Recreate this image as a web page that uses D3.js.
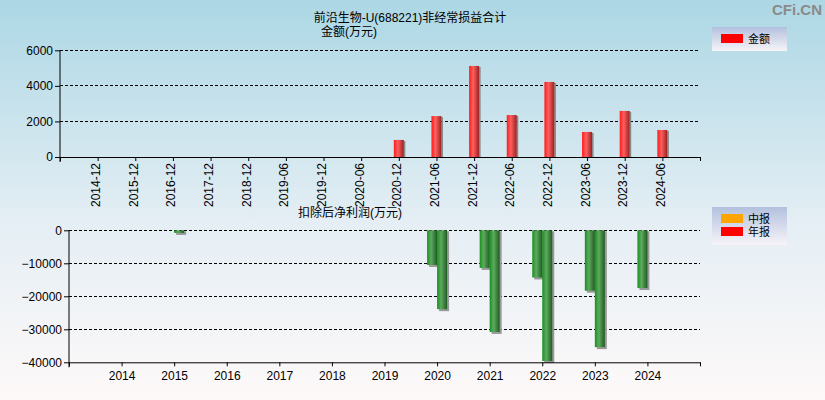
<!DOCTYPE html>
<html><head><meta charset="utf-8">
<script src="https://cdn.jsdelivr.net/npm/d3@7"></script>
<style>
body{margin:0;padding:0;}
svg{display:block;font-family:"Liberation Sans",Arial,"Noto Sans CJK SC",sans-serif;}
</style></head>
<body>
<svg id="c" width="825" height="400"></svg>
<script>
// ---- data ----
const topCategories = ["2014-12","2015-12","2016-12","2017-12","2018-12","2019-06","2019-12","2020-06","2020-12","2021-06","2021-12","2022-06","2022-12","2023-06","2023-12","2024-06"];
const topValues = [null,null,null,null,null,null,null,null,960,2300,5120,2360,4220,1410,2590,1520];
const topTicks = [0,2000,4000,6000];

const years = ["2014","2015","2016","2017","2018","2019","2020","2021","2022","2023","2024"];
const midValues = [null,null,null,null,null,null,-10500,-11400,-14300,-18300,-17500];
const annualValues = [null,-800,null,null,null,null,-23900,-30800,-39600,-35400,null];
const bottomTicks = [0,-10000,-20000,-30000,-40000];

const FONT = "'Liberation Sans',Arial,'Noto Sans CJK SC',sans-serif";
const svg = d3.select("#c");
const defs = svg.append("defs");
const bg = defs.append("linearGradient").attr("id","bg").attr("x1",0).attr("y1",0).attr("x2",0).attr("y2",1);
bg.append("stop").attr("offset","0%").attr("stop-color","#acd7e5");
bg.append("stop").attr("offset","55%").attr("stop-color","#e4eef4");
bg.append("stop").attr("offset","100%").attr("stop-color","#fef9f9");
function hgrad(id, stops){
  const g = defs.append("linearGradient").attr("id",id).attr("x1",0).attr("y1",0).attr("x2",1).attr("y2",0);
  stops.forEach(s=>g.append("stop").attr("offset",s[0]).attr("stop-color",s[1]));
}
hgrad("red",[["0%","#ff1a1a"],["40%","#ff6060"],["100%","#9a2020"]]);
hgrad("green",[["0%","#18901e"],["40%","#5eaa60"],["100%","#205c22"]]);
const lg = defs.append("linearGradient").attr("id","leg").attr("x1",0).attr("y1",0).attr("x2",0).attr("y2",1);
lg.append("stop").attr("offset","0%").attr("stop-color","#b3c1de");
lg.append("stop").attr("offset","100%").attr("stop-color","#f6f4f8");

svg.append("rect").attr("width",825).attr("height",400).attr("fill","url(#bg)");

// watermark
svg.append("text").attr("x",822).attr("y",15).attr("text-anchor","end").attr("font-family",FONT)
  .attr("font-size",15).attr("font-weight","bold").attr("fill","#8a8a8a").text("CFi.CN");

// titles
svg.append("text").attr("x",410).attr("y",22).attr("text-anchor","middle").attr("font-size",12)
  .attr("font-family",FONT).text("前沿生物-U(688221)非经常损益合计");
svg.append("text").attr("x",321).attr("y",36).attr("font-size",12)
  .attr("font-family",FONT).text("金额(万元)");
svg.append("text").attr("x",298).attr("y",217).attr("font-size",12)
  .attr("font-family",FONT).text("扣除后净利润(万元)");

// ---- top chart ----
const xT = d3.scaleLinear().domain([0, topCategories.length+1]).range([60,700]);
const yT = d3.scaleLinear().domain([0,6000]).range([157,50.3]);
const gT = svg.append("g");
gT.selectAll(".grid").data(topTicks.filter(d=>d>0)).join("line")
  .attr("x1",60).attr("x2",700).attr("y1",d=>yT(d)).attr("y2",d=>yT(d))
  .attr("stroke","#000").attr("stroke-dasharray","3,2").attr("stroke-width",1).attr("shape-rendering","crispEdges");
const yAxT = d3.axisLeft(yT).tickValues(topTicks).tickFormat(d3.format("d")).tickSize(5).tickPadding(2).tickSizeOuter(0);
gT.append("g").attr("transform","translate(60,0)").call(yAxT)
  .call(g=>{g.selectAll("text").attr("font-size",12).attr("font-family",FONT).attr("fill","#000");
            g.select(".domain").attr("d","M0,"+yT(6000)+"V"+(yT(0)+5));});
const xAxT = d3.axisBottom(xT).tickValues(d3.range(0, topCategories.length+2)).tickSize(4).tickSizeOuter(0)
  .tickFormat(i => (i>=1 && i<=topCategories.length) ? topCategories[i-1] : "");
gT.append("g").attr("transform","translate(0,157)").call(xAxT)
  .call(g=>{g.selectAll("text").attr("font-size",12).attr("font-family",FONT).attr("fill","#000")
      .attr("transform","rotate(-90)").attr("text-anchor","end").attr("dx","-6").attr("dy","-0.1em").attr("y",0).attr("x",0)
      .style("dominant-baseline","middle");});

const topData = topCategories.map((c,i)=>({c,i,v:topValues[i]})).filter(d=>d.v!=null);
gT.selectAll(".sh").data(topData).join("rect")
  .attr("x",d=>xT(d.i+1)-5+10).attr("y",d=>yT(d.v)+1).attr("width",1.5).attr("height",d=>yT(0)-yT(d.v)-1).attr("fill","#888");
gT.selectAll(".bar").data(topData).join("rect")
  .attr("x",d=>xT(d.i+1)-5).attr("y",d=>yT(d.v)).attr("width",10).attr("height",d=>yT(0)-yT(d.v)).attr("fill","url(#red)");

// ---- bottom chart ----
const xB = d3.scaleLinear().domain([0, years.length+1]).range([69,700]);
const yB = d3.scaleLinear().domain([-40000,0]).range([362.3,230.3]);
const gB = svg.append("g");
gB.selectAll(".grid").data(bottomTicks.filter(d=>d>-40000)).join("line")
  .attr("x1",69).attr("x2",700).attr("y1",d=>yB(d)).attr("y2",d=>yB(d))
  .attr("stroke","#000").attr("stroke-dasharray","3,2").attr("stroke-width",1).attr("shape-rendering","crispEdges");
const yAxB = d3.axisLeft(yB).tickValues(bottomTicks).tickFormat(d3.format("d")).tickSize(5).tickPadding(2).tickSizeOuter(0);
gB.append("g").attr("transform","translate(69,0)").call(yAxB)
  .call(g=>{g.selectAll("text").attr("font-size",12).attr("font-family",FONT).attr("fill","#000");
            g.select(".domain").attr("d","M0,"+yB(0)+"V"+(yB(-40000)+5));});

const midData = years.map((y,i)=>({i,v:midValues[i]})).filter(d=>d.v!=null);
const annData = years.map((y,i)=>({i,v:annualValues[i]})).filter(d=>d.v!=null);
function drawNeg(data, off){
  gB.append("g").selectAll("rect").data(data).join("rect")
    .attr("x",d=>xB(d.i+1)+off+2).attr("y",yB(0)+1).attr("width",10).attr("height",d=>yB(d.v)-yB(0)+1).attr("fill","#999");
  gB.append("g").selectAll("rect").data(data).join("rect")
    .attr("x",d=>xB(d.i+1)+off).attr("y",yB(0)).attr("width",10).attr("height",d=>yB(d.v)-yB(0)).attr("fill","url(#green)");
}
drawNeg(midData,-10);
drawNeg(annData,0);

const xAxB = d3.axisBottom(xB).tickValues(d3.range(0, years.length+2)).tickSize(4).tickSizeOuter(0)
  .tickFormat(i => (i>=1 && i<=years.length) ? years[i-1] : "");
gB.append("g").attr("transform","translate(0,362.3)").call(xAxB)
  .call(g=>{g.selectAll("text").attr("font-size",12).attr("font-family",FONT).attr("fill","#000").attr("dy","0.9em");});
svg.selectAll(".domain").attr("stroke","#000");

// ---- legends ----
function legend(x,y,h,items){
  const g = svg.append("g");
  g.append("rect").attr("x",x).attr("y",y).attr("width",75).attr("height",h).attr("fill","url(#leg)");
  items.forEach((it,k)=>{
    g.append("rect").attr("x",x+9).attr("y",y+7+k*13).attr("width",22).attr("height",9).attr("fill",it[1]);
    g.append("text").attr("x",x+36).attr("y",y+16+k*13).attr("font-size",11)
      .attr("font-family",FONT).text(it[0]);
  });
}
legend(712,27,24,[["金额","#ff0000"]]);
legend(712,207,38,[["中报","#ffa500"],["年报","#ff0000"]]);
</script>
</body></html>
